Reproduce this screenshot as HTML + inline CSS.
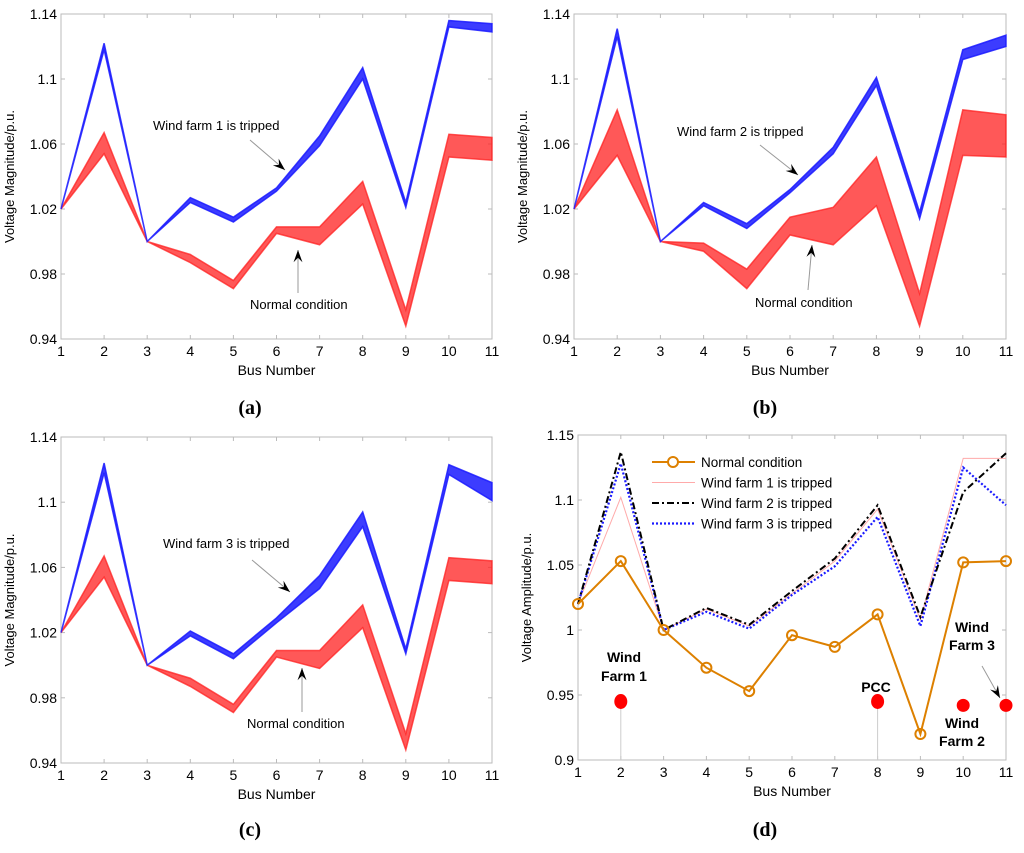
<!DOCTYPE html>
<html><head><meta charset="utf-8"><style>
body{margin:0;background:#fff;}
svg text{font-family:"Liberation Sans",sans-serif;}
</style></head><body>
<svg id="s" width="1024" height="848" xmlns="http://www.w3.org/2000/svg"></svg>
<script>
const buses=[1,2,3,4,5,6,7,8,9,10,11];
const aBlueLo=[1.02,1.118,1.0,1.024,1.012,1.031,1.059,1.100,1.021,1.132,1.129];
const aBlueHi=[1.02,1.122,1.0,1.027,1.015,1.033,1.065,1.107,1.024,1.136,1.134];
const aRedLo=[1.02,1.054,1.0,0.987,0.971,1.005,0.998,1.023,0.948,1.052,1.050];
const aRedHi=[1.02,1.067,1.0,0.992,0.976,1.009,1.009,1.037,0.958,1.066,1.064];
const bBlueLo=[1.02,1.126,1.0,1.022,1.008,1.030,1.054,1.096,1.014,1.112,1.120];
const bBlueHi=[1.02,1.131,1.0,1.024,1.011,1.032,1.058,1.101,1.018,1.118,1.127];
const bRedLo=[1.02,1.053,1.0,0.994,0.971,1.004,0.998,1.022,0.948,1.053,1.052];
const bRedHi=[1.02,1.081,1.0,0.999,0.983,1.015,1.021,1.052,0.968,1.081,1.078];
const cBlueLo=[1.02,1.118,1.0,1.018,1.004,1.026,1.047,1.085,1.007,1.117,1.101];
const cBlueHi=[1.02,1.124,1.0,1.021,1.007,1.029,1.055,1.094,1.010,1.123,1.112];
const cRedLo=[1.02,1.054,1.0,0.987,0.971,1.005,0.998,1.023,0.948,1.052,1.050];
const cRedHi=[1.02,1.067,1.0,0.992,0.976,1.009,1.009,1.037,0.958,1.066,1.064];
const dNormal=[1.02,1.053,1.0,0.971,0.953,0.996,0.987,1.012,0.92,1.052,1.053];
const dWF1=[1.02,1.102,1.0,1.016,1.003,1.028,1.053,1.093,1.008,1.132,1.132];
const dWF2=[1.02,1.137,1.0,1.017,1.004,1.030,1.055,1.096,1.010,1.106,1.136];
const dWF3=[1.02,1.128,1.0,1.014,1.001,1.027,1.049,1.087,1.003,1.125,1.096];
const dDotBus=[2,8,10,11];
const dDotVal=[0.945,0.945,0.942,0.942];
const yTicksABC=[0.94,0.98,1.02,1.06,1.1,1.14];
const yTickLabABC=["0.94","0.98","1.02","1.06","1.1","1.14"];
const yTicksD=[0.9,0.95,1,1.05,1.1,1.15];
const yTickLabD=["0.9","0.95","1","1.05","1.1","1.15"];

const S=document.getElementById('s');const NS='http://www.w3.org/2000/svg';
function mk(t,a,txt){const e=document.createElementNS(NS,t);for(const k in a)e.setAttribute(k,a[k]);if(txt!==undefined)e.textContent=txt;S.appendChild(e);return e;}
function axes(x0,x1,y0,y1,ymin,ymax,yt,ytl,ylab,name){
  const X=v=>x0+(v-1)*(x1-x0)/10, Y=v=>y1-(v-ymin)*(y1-y0)/(ymax-ymin);
  const r=mk('rect',{x:x0,y:y0,width:x1-x0,height:y1-y0,fill:'none',stroke:'#bbb','stroke-width':1});
  
  buses.forEach(b=>{mk('line',{x1:X(b),x2:X(b),y1:y1,y2:y1-4,stroke:'#bbb'});mk('line',{x1:X(b),x2:X(b),y1:y0,y2:y0+4,stroke:'#bbb'});
    const t=mk('text',{x:X(b),y:y1+17,'font-size':14,'text-anchor':'middle'},String(b));});
  yt.forEach((v,i)=>{mk('line',{x1:x0,x2:x0+4,y1:Y(v),y2:Y(v),stroke:'#bbb'});mk('line',{x1:x1,x2:x1-4,y1:Y(v),y2:Y(v),stroke:'#bbb'});
    const t=mk('text',{x:x0-4,y:Y(v)+5,'font-size':14,'text-anchor':'end'},ytl[i]);});
  const xl=mk('text',{x:(x0+x1)/2,y:y1+36,'font-size':14,'text-anchor':'middle'},'Bus Number');
  const cy=(y0+y1)/2;const yl=mk('text',{x:14,y:cy,'font-size':13,'text-anchor':'middle',transform:`rotate(-90 ${x0-47} ${cy})`},ylab);yl.setAttribute('x',x0-47);
  return [X,Y];
}
function band(X,Y,lo,hi,col,op,name){
  let p=buses.map((b,i)=>X(b)+','+Y(hi[i])).join(' ')+' '+buses.slice().reverse().map((b,j)=>X(b)+','+Y(lo[10-j])).join(' ');
  const e=mk('polygon',{points:p,fill:col,'fill-opacity':op,stroke:col,'stroke-width':1.5,'stroke-opacity':op,'stroke-linejoin':'miter'});
  
}
function label(x,y,t,name,extra){const e=mk('text',Object.assign({x:x,y:y,'font-size':13},extra||{}),t);return e;}
function arrow(xa,ya,xb,yb,name){const l=mk('line',{x1:xa,y1:ya,x2:xb,y2:yb,stroke:'#999','stroke-width':1});
  const a=Math.atan2(yb-ya,xb-xa),L=13,w=0.35;
  mk('polygon',{points:`${xb},${yb} ${xb-L*Math.cos(a-w)},${yb-L*Math.sin(a-w)} ${xb-L*0.6*Math.cos(a)},${yb-L*0.6*Math.sin(a)} ${xb-L*Math.cos(a+w)},${yb-L*Math.sin(a+w)}`,fill:'#000'});}
function panelLetter(x,y,l,name){const e=mk('text',{x:x,y:y,'font-size':20,'text-anchor':'middle','font-weight':'bold','font-family':'Liberation Serif, serif'},'('+l+')');e.style.fontFamily='"Liberation Serif",serif';}

// Panel a
let [X,Y]=axes(61,492,14,339,0.94,1.14,yTicksABC,yTickLabABC,'Voltage Magnitude/p.u.','panel-a');
band(X,Y,aRedLo,aRedHi,'#ff2020',0.75,'panel-a-normal-band');
band(X,Y,aBlueLo,aBlueHi,'#1a1aff',0.85,'panel-a-tripped-band');
label(153,130,'Wind farm 1 is tripped','panel-a-tripped-label');arrow(250,140,285,170,'panel-a-tripped-arrow');
label(250,309,'Normal condition','panel-a-normal-label');arrow(298,293,298,250,'panel-a-normal-arrow');
panelLetter(250,414,'a','panel-a-letter');
// Panel b
[X,Y]=axes(574,1006,14,339,0.94,1.14,yTicksABC,yTickLabABC,'Voltage Magnitude/p.u.','panel-b');
band(X,Y,bRedLo,bRedHi,'#ff2020',0.75,'panel-b-normal-band');
band(X,Y,bBlueLo,bBlueHi,'#1a1aff',0.85,'panel-b-tripped-band');
label(677,136,'Wind farm 2 is tripped','panel-b-tripped-label');arrow(760,145,798,175,'panel-b-tripped-arrow');
label(755,307,'Normal condition','panel-b-normal-label');arrow(808,290,812,245,'panel-b-normal-arrow');
panelLetter(765,414,'b','panel-b-letter');
// Panel c
[X,Y]=axes(61,492,437,763,0.94,1.14,yTicksABC,yTickLabABC,'Voltage Magnitude/p.u.','panel-c');
band(X,Y,cRedLo,cRedHi,'#ff2020',0.75,'panel-c-normal-band');
band(X,Y,cBlueLo,cBlueHi,'#1a1aff',0.85,'panel-c-tripped-band');
label(163,548,'Wind farm 3 is tripped','panel-c-tripped-label');arrow(252,560,290,592,'panel-c-tripped-arrow');
label(247,728,'Normal condition','panel-c-normal-label');arrow(302,712,302,668,'panel-c-normal-arrow');
panelLetter(250,836,'c','panel-c-letter');
// Panel d
[X,Y]=axes(578,1006,435,760,0.9,1.15,yTicksD,yTickLabD,'Voltage Amplitude/p.u.','panel-d');
dDotBus.forEach((b,i)=>{if(b===2||b===8){const s=mk('line',{x1:X(b),x2:X(b),y1:Y(dDotVal[i]),y2:760,stroke:'#ccc'});}
  const e=mk('ellipse',{cx:X(b),cy:Y(dDotVal[i]),rx:6.5,ry:(b===2||b===8)?7.5:6.5,fill:'#ff0000'});});
function line(vals,st,name){const e=mk('polyline',Object.assign({points:buses.map((b,i)=>X(b)+','+Y(vals[i])).join(' '),fill:'none'},st));}
line(dWF1,{stroke:'#ffaaaa','stroke-width':1},'wf1-tripped-line');
line(dWF3,{stroke:'#1a1aff','stroke-width':2.2,'stroke-dasharray':'2 2'},'wf3-tripped-line');
line(dWF2,{stroke:'#000','stroke-width':2,'stroke-dasharray':'7 3 2 3'},'wf2-tripped-line');
line(dNormal,{stroke:'#dd8000','stroke-width':2},'normal-line');
buses.forEach((b,i)=>{const c=mk('circle',{cx:X(b),cy:Y(dNormal[i]),r:5,fill:'none',stroke:'#dd8000','stroke-width':2});});
// legend
const lg=[['Normal condition',{stroke:'#dd8000','stroke-width':2}],['Wind farm 1 is tripped',{stroke:'#ffaaaa','stroke-width':1}],['Wind farm 2 is tripped',{stroke:'#000','stroke-width':2,'stroke-dasharray':'7 3 2 3'}],['Wind farm 3 is tripped',{stroke:'#1a1aff','stroke-width':2.2,'stroke-dasharray':'2 2'}]];
lg.forEach((l,i)=>{const y=462+i*20.5;const ln=mk('line',Object.assign({x1:652,x2:695,y1:y,y2:y},l[1]));
  if(i===0)mk('circle',{cx:673,cy:y,r:5,fill:'#fff',stroke:'#dd8000','stroke-width':2});
  label(701,y+5,l[0],'legend-entry',{'font-size':13.5});});
const B={'font-weight':'bold','font-size':14,'text-anchor':'middle'};
label(624,662,'Wind','wind-farm-1-label',B);label(624,681,'Farm 1','wind-farm-1-label',B);
label(876,692,'PCC','pcc-label',B);
label(962,728,'Wind','wind-farm-2-label',B);label(962,746,'Farm 2','wind-farm-2-label',B);
label(972,632,'Wind','wind-farm-3-label',B);label(972,650,'Farm 3','wind-farm-3-label',B);
arrow(982,666,1000,698,'wind-farm-3-arrow');
panelLetter(765,836,'d','panel-d-letter');
</script>
</body></html>
